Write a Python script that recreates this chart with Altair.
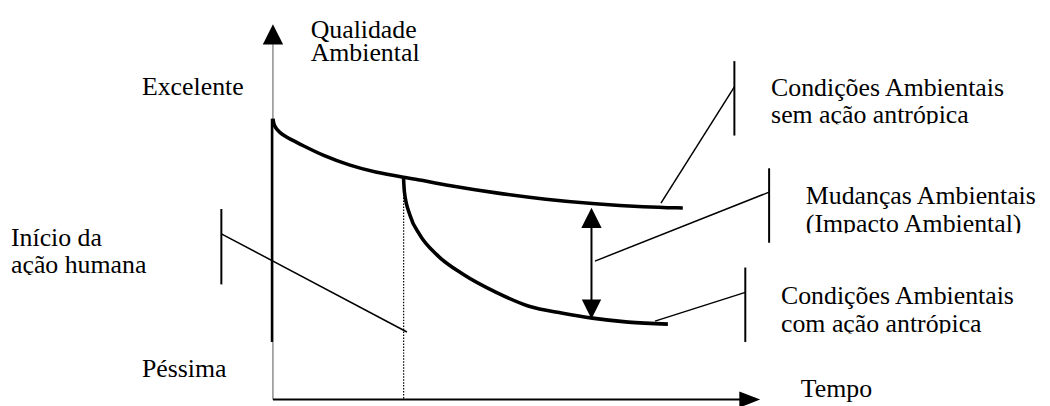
import altair as alt
import pandas as pd

# Diagram units: t = time (origin at the vertical axis), q = environmental quality (origin at time axis)

# Curve: environmental conditions without human action
sem_t = [0, 0.6, 1.7, 4, 6.7, 11, 16.7, 30, 50, 77, 103, 132, 150, 175, 225, 275, 325, 375, 413]
sem_q = [282, 278, 274.5, 271, 268.3, 265, 261.7, 255, 245, 235, 228, 223, 220, 215, 207, 200.5, 196, 193, 192]

# Curve: environmental conditions with human action
com_t = [131.5, 132.5, 138, 148, 165, 192, 225, 258, 292, 322, 358, 398]
com_q = [224, 208, 185, 165, 145, 125, 107, 93, 86, 81, 77, 75]

# Axes extents
y_axis_t = [0]
y_axis_q1 = [-1]
y_axis_q2 = [357]
y_thick_t = [-1]
y_thick_q1 = [57]
y_thick_q2 = [282]
x_axis_q = [-1]
x_axis_t1 = [0]
x_axis_t2 = [472]

# Start of human action (dotted)
start_t = [131.7]
start_q1 = [0]
start_q2 = [222]

# Impact double arrow
impact_t = [321]
impact_q1 = [90]
impact_q2 = [182]

# Arrow heads
up_t = [0, 321]
up_q = [367, 182]
down_t = [321]
down_q = [90]
right_t = [480.5]
right_q = [-1]

# Callout bars and leader lines
bar_t = [465, 500, 476, -52]
bar_q1 = [340, 232, 132, 191]
bar_q2 = [265, 157, 57, 115]
lead_t1 = [465, 500, 476, -52]
lead_q1 = [314, 208, 107, 166]
lead_t2 = [391, 324.5, 385, 135]
lead_q2 = [197, 138.5, 78, 67]

# Labels (clipped = text box cuts the line just below its baseline)
label_text = ["Qualidade", "Ambiental", "Excelente",
              "Condições Ambientais", "sem ação antrópica",
              "Mudanças Ambientais", "(Impacto Ambiental)",
              "Condições Ambientais", "com ação antrópica",
              "Início da", "ação humana", "Péssima", "Tempo"]
label_t = [38, 38, -132, 502, 502, 537, 537, 512, 512, -264, -264, -132, 532]
label_q = [363, 340, 306, 305, 278, 196, 168, 95, 67, 154, 126, 22, 2]
label_clipped = [False, False, False, False, True, False, True, False, True, False, True, False, False]

XS = alt.Scale(domain=[-267, 775], nice=False, zero=False)
YS = alt.Scale(domain=[-6, 392], nice=False, zero=False)


def X(f="t"):
    return alt.X(f"{f}:Q", scale=XS, axis=None)


def Y(f="q"):
    return alt.Y(f"{f}:Q", scale=YS, axis=None)


def seg_layer(t1, q1, t2, q2, **mk):
    df = pd.DataFrame({"t": t1, "q": q1, "t2": t2, "q2": q2})
    return alt.Chart(df).mark_rule(**mk).encode(
        x=X("t"), y=Y("q"), x2="t2:Q", y2="q2:Q")


sem_df = pd.DataFrame({"t": sem_t, "q": sem_q})
com_df = pd.DataFrame({"t": com_t, "q": com_q})

sem_line = alt.Chart(sem_df).mark_line(
    color="black", strokeWidth=3.6, strokeCap="butt", interpolate="basis"
).encode(x=X(), y=Y())
com_line = alt.Chart(com_df).mark_line(
    color="black", strokeWidth=3.6, strokeCap="butt", interpolate="monotone"
).encode(x=X(), y=Y())

y_axis = seg_layer(y_axis_t, y_axis_q1, y_axis_t, y_axis_q2, color="#555555", strokeWidth=1)
y_thick = seg_layer(y_thick_t, y_thick_q1, y_thick_t, y_thick_q2, color="black", strokeWidth=2.4)
x_axis = seg_layer(x_axis_t1, x_axis_q, x_axis_t2, x_axis_q, color="black", strokeWidth=2)
start_line = seg_layer(start_t, start_q1, start_t, start_q2, color="black", strokeWidth=1.2,
                       strokeDash=[1.5, 1.5])
impact = seg_layer(impact_t, impact_q1, impact_t, impact_q2, color="black", strokeWidth=2)
bars = seg_layer(bar_t, bar_q1, bar_t, bar_q2, color="black", strokeWidth=2)
leads = seg_layer(lead_t1, lead_q1, lead_t2, lead_q2, color="black", strokeWidth=1.5)

pt = dict(filled=True, color="black", opacity=1, strokeWidth=0)
up_heads = alt.Chart(pd.DataFrame({"t": up_t, "q": up_q})).mark_point(
    shape="M0,-1L1,1L-1,1Z", size=420, **pt).encode(x=X(), y=Y())
down_heads = alt.Chart(pd.DataFrame({"t": down_t, "q": down_q})).mark_point(
    shape="M0,1L1,-1L-1,-1Z", size=380, **pt).encode(x=X(), y=Y())
right_heads = alt.Chart(pd.DataFrame({"t": right_t, "q": right_q})).mark_point(
    shape="M-1,-0.78L1,0L-1,0.78Z", size=441, **pt).encode(x=X(), y=Y())

label_df = pd.DataFrame({"t": label_t, "q": label_q, "label": label_text,
                         "clipped": label_clipped})
labels = alt.Chart(label_df).mark_text(
    align="left", baseline="alphabetic", font="Liberation Serif", fontSize=26, color="black"
).encode(x=X(), y=Y(), text="label:N")

# Text-box clipping of the second lines (descenders cut off, as in the original)
clip_masks = alt.Chart(label_df).transform_filter(
    "datum.clipped"
).transform_calculate(
    t_end="datum.t + 240", q_top="datum.q - 1.5", q_bot="datum.q - 10"
).mark_rect(color="white", opacity=1).encode(
    x=X("t"), x2="t_end:Q", y=Y("q_top"), y2="q_bot:Q"
)

chart = alt.layer(
    labels, clip_masks,
    y_axis, y_thick, x_axis, start_line, sem_line, com_line, impact, bars, leads,
    up_heads, down_heads, right_heads
).properties(
    width=1042, height=398, padding=0, autosize="none", background="white"
).configure_view(stroke=None)

chart.save("out.html", embed_options={"renderer": "svg", "actions": False})
